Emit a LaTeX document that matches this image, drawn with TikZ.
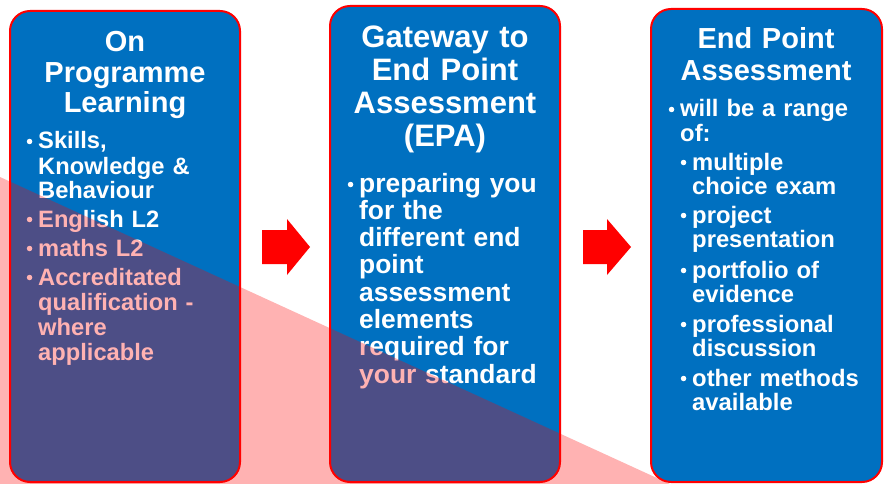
\documentclass[tikz,border=0pt]{standalone}
\usepackage{fontspec}
\setmainfont{Liberation Sans}
\usetikzlibrary{positioning}
\definecolor{boxblue}{RGB}{0,112,192}
\newcommand{\sz}[2]{\bfseries\fontsize{#1}{#2}\selectfont}

\begin{document}
\begin{tikzpicture}[x=1pt,y=-1pt,
    stage/.style={draw=red,line width=2pt,fill=boxblue,rounded corners=20pt,inner sep=0pt},
    heading/.style={text=white,anchor=base,inner sep=0pt,text width=226pt,align=center},
    point/.style={text=white,anchor=base west,inner sep=0pt,text width=195pt,align=left},
    bul/.style={circle,fill=white,inner sep=0pt,minimum size=5.5pt,yshift=7.5pt}]
    \useasboundingbox (0,0) rectangle (886,484);

    % the three stages
    \node[stage,minimum width=230pt,minimum height=471pt] (learn) at (125,246.5) {};
    \node[stage,minimum width=230pt,minimum height=476pt] (gate) at (445,244) {};
    \node[stage,minimum width=231pt,minimum height=473pt] (epa) at (766.5,245.5) {};

    \node[heading,font=\sz{29}{30.5}] (learnhd) at (125,52) {On\\Programme\\Learning};
    \node[heading,font=\sz{31}{33}] (gatehd) at (445,48) {Gateway to\\End Point\\Assessment\\(EPA)};
    \node[heading,font=\sz{29}{32}] (epahd) at (766,49) {End Point\\Assessment};

    % on programme
    \node[point,font=\sz{23.7}{25}] (skills) at (38,149) {Skills,\\Knowledge \&\\Behaviour};
    \node[point,font=\sz{23.7}{25}] (english) at (38,227) {English L2};
    \node[point,font=\sz{23.7}{25}] (maths) at (38,256) {maths L2};
    \node[point,font=\sz{23.7}{25}] (accred) at (38,285) {Accreditated\\qualification -\\where\\applicable};
    \node[bul,left=5.5pt of skills.base west] (skillsdot) {};
    \node[bul,left=5.5pt of english.base west] (englishdot) {};
    \node[bul,left=5.5pt of maths.base west] (mathsdot) {};
    \node[bul,left=5.5pt of accred.base west] (accreddot) {};

    % gateway
    \node[point,font=\sz{26.4}{27.3}] (prep) at (359,192) {preparing you\\for the\\different end\\point\\assessment\\elements\\required for\\your standard};
    \node[bul,left=5.5pt of prep.base west] (prepdot) {};

    % end point assessment
    \node[point,font=\sz{23.8}{24.5}] (range) at (680,117) {will be a range\\of:};
    \node[point,font=\sz{23.8}{24.5}] (exam) at (692,170) {multiple\\choice exam};
    \node[point,font=\sz{23.8}{24.5}] (project) at (692,223) {project\\presentation};
    \node[point,font=\sz{23.8}{24.5}] (portfolio) at (692,278) {portfolio of\\evidence};
    \node[point,font=\sz{23.8}{24.5}] (discuss) at (692,332) {professional\\discussion};
    \node[point,font=\sz{23.8}{24.5}] (other) at (692,386) {other methods\\available};
    \node[bul,left=5.5pt of range.base west] (rangedot) {};
    \node[bul,left=5.5pt of exam.base west] (examdot) {};
    \node[bul,left=5.5pt of project.base west] (projectdot) {};
    \node[bul,left=5.5pt of portfolio.base west] (portfoliodot) {};
    \node[bul,left=5.5pt of discuss.base west] (discussdot) {};
    \node[bul,left=5.5pt of other.base west] (otherdot) {};

    % block arrows
    \fill[red] (262,230) -- (287,230) -- (287,219) -- (310,247) -- (287,275) -- (287,264) -- (262,264) -- cycle;
    \fill[red] (583,230) -- (607,230) -- (607,219) -- (631,247) -- (607,275) -- (607,264) -- (583,264) -- cycle;

    % pink wedge over everything
    \fill[red,opacity=0.3] (0,177) -- (670,484) -- (0,484) -- cycle;
\end{tikzpicture}
\end{document}
